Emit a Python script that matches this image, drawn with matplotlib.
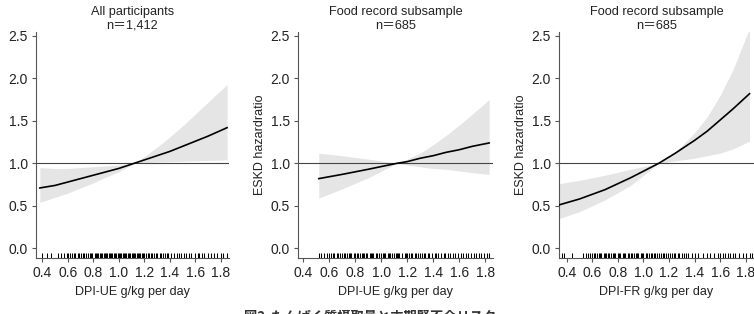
import matplotlib.pyplot as plt
import matplotlib.transforms as mtransforms

plt.rcParams['font.family'] = ['Liberation Sans', 'Noto Sans CJK JP', 'DejaVu Sans']

# hazard ratio curves (x in g/kg per day)
p1_x = [0.38, 0.5, 0.6, 0.7, 0.8, 0.9, 1.0, 1.12, 1.2, 1.3, 1.4, 1.5, 1.6, 1.7, 1.85]
p1_hr = [0.71, 0.74, 0.78, 0.82, 0.86, 0.90, 0.94, 1.0, 1.04, 1.09, 1.14, 1.20, 1.26, 1.32, 1.42]
p1_hi = [0.95, 0.94, 0.94, 0.95, 0.96, 0.97, 0.98, 1.0, 1.08, 1.19, 1.31, 1.44, 1.58, 1.72, 1.93]
p1_lo = [0.54, 0.60, 0.65, 0.71, 0.77, 0.84, 0.90, 1.0, 1.01, 1.015, 1.02, 1.025, 1.03, 1.035, 1.04]

p2_x = [0.52, 0.7, 0.9, 1.12, 1.2, 1.3, 1.4, 1.5, 1.6, 1.7, 1.83]
p2_hr = [0.82, 0.87, 0.93, 1.0, 1.02, 1.06, 1.09, 1.13, 1.16, 1.20, 1.24]
p2_hi = [1.12, 1.09, 1.05, 1.0, 1.05, 1.12, 1.22, 1.33, 1.45, 1.58, 1.75]
p2_lo = [0.59, 0.70, 0.83, 1.0, 0.98, 0.96, 0.94, 0.93, 0.91, 0.89, 0.87]

p3_x = [0.34, 0.5, 0.7, 0.9, 1.12, 1.25, 1.4, 1.5, 1.6, 1.7, 1.83]
p3_hr = [0.51, 0.58, 0.69, 0.83, 1.0, 1.12, 1.27, 1.38, 1.51, 1.64, 1.82]
p3_hi = [0.76, 0.80, 0.86, 0.93, 1.0, 1.13, 1.36, 1.55, 1.80, 2.10, 2.59]
p3_lo = [0.35, 0.43, 0.57, 0.74, 1.0, 1.03, 1.06, 1.09, 1.12, 1.17, 1.26]

# rug marks (individual intakes)
rug1 = [0.40, 0.44, 0.47, 0.52, 0.55, 0.57, 0.59, 0.60, 0.62, 0.63, 0.65, 0.66, 0.68, 0.69,
        0.70, 0.72, 0.73, 0.74, 0.76, 0.77, 0.78, 0.79, 0.81, 0.82, 0.83, 0.84, 0.85, 0.86,
        0.87, 0.88, 0.89, 0.90, 0.91, 0.92, 0.93, 0.94, 0.95, 0.96, 0.97, 0.98, 0.99, 1.00,
        1.01, 1.02, 1.03, 1.04, 1.05, 1.06, 1.07, 1.08, 1.09, 1.10, 1.11, 1.12, 1.13, 1.14,
        1.15, 1.16, 1.17, 1.18, 1.19, 1.20, 1.21, 1.23, 1.24, 1.25, 1.26, 1.28, 1.29, 1.30,
        1.32, 1.33, 1.35, 1.36, 1.38, 1.39, 1.41, 1.43, 1.46, 1.47, 1.49, 1.51, 1.53, 1.55,
        1.57, 1.60, 1.62, 1.63, 1.65, 1.67, 1.70, 1.72, 1.75, 1.77, 1.80, 1.82, 1.85]
rug2 = [0.52, 0.54, 0.56, 0.58, 0.60, 0.61, 0.63, 0.64, 0.66, 0.67, 0.68, 0.70, 0.71, 0.72,
        0.74, 0.75, 0.76, 0.77, 0.79, 0.80, 0.81, 0.82, 0.84, 0.85, 0.86, 0.87, 0.88, 0.89,
        0.91, 0.92, 0.93, 0.94, 0.96, 0.97, 0.98, 1.00, 1.01, 1.02, 1.03, 1.05, 1.06, 1.07,
        1.08, 1.10, 1.11, 1.12, 1.13, 1.14, 1.16, 1.18, 1.19, 1.20, 1.21, 1.23, 1.24, 1.26,
        1.27, 1.28, 1.30, 1.31, 1.33, 1.34, 1.36, 1.37, 1.39, 1.41, 1.42, 1.44, 1.46, 1.48,
        1.49, 1.51, 1.53, 1.55, 1.57, 1.59, 1.61, 1.63, 1.65, 1.67, 1.69, 1.71, 1.73, 1.75,
        1.77, 1.79, 1.81, 1.83]
rug3 = [0.36, 0.38, 0.44, 0.53, 0.55, 0.57, 0.58, 0.60, 0.61, 0.62, 0.64, 0.65, 0.66, 0.67,
        0.69, 0.70, 0.71, 0.72, 0.73, 0.75, 0.76, 0.77, 0.78, 0.80, 0.81, 0.82, 0.84, 0.85,
        0.86, 0.88, 0.89, 0.90, 0.91, 0.93, 0.94, 0.95, 0.96, 0.98, 0.99, 1.00, 1.02, 1.03,
        1.04, 1.06, 1.07, 1.08, 1.09, 1.11, 1.12, 1.14, 1.15, 1.16, 1.18, 1.19, 1.21, 1.22,
        1.24, 1.25, 1.27, 1.28, 1.30, 1.32, 1.33, 1.35, 1.38, 1.40, 1.43, 1.47, 1.50, 1.52,
        1.55, 1.58, 1.60, 1.62, 1.64, 1.66, 1.68, 1.70, 1.72, 1.75, 1.78, 1.80, 1.83, 1.85]

titles = ['All participants\nn＝1,412', 'Food record subsample\nn＝685', 'Food record subsample\nn＝685']
xlabels = ['DPI-UE g/kg per day', 'DPI-UE g/kg per day', 'DPI-FR g/kg per day']
xticks = [0.4, 0.6, 0.8, 1.0, 1.2, 1.4, 1.6, 1.8]
yticks = [0.0, 0.5, 1.0, 1.5, 2.0, 2.5]
caption = '図2  たんぱく質摂取量と末期腎不全リスク'

W, H = 754, 314
fig = plt.figure(figsize=(W / 100, H / 100), dpi=100)

panels = [
    (36, 193, (0.35, 1.865), p1_x, p1_hr, p1_hi, p1_lo, rug1),
    (298, 195, (0.36, 1.86), p2_x, p2_hr, p2_hi, p2_lo, rug2),
    (559, 195, (0.34, 1.865), p3_x, p3_hr, p3_hi, p3_lo, rug3),
]
top_px, bot_px = 32, 258
spine_col = '#555555'

for i, (left, width, xlim, x, hr, hi, lo, rug) in enumerate(panels):
    ax = fig.add_axes([left / W, (H - bot_px) / H, width / W, (bot_px - top_px) / H])
    ax.fill_between(x, lo, hi, color='#e5e5e5', lw=0, zorder=1)
    ax.axhline(1.0, color='#444444', lw=0.8, zorder=2)
    ax.plot(x, hr, color='black', lw=1.2, zorder=3)
    trans = mtransforms.blended_transform_factory(ax.transData, ax.transAxes)
    ax.vlines(rug, 0, 0.022, transform=trans, color='black', lw=0.75, zorder=3)
    ax.set_xlim(*xlim)
    ax.set_ylim(-0.115, 2.547)
    ax.set_xticks(xticks)
    ax.set_xticklabels([f'{v:.1f}' for v in xticks])
    ax.set_yticks(yticks)
    ax.set_yticklabels([f'{v:.1f}' for v in yticks])
    for s in ['top', 'right']:
        ax.spines[s].set_visible(False)
    for s in ['left', 'bottom']:
        ax.spines[s].set_color(spine_col)
        ax.spines[s].set_linewidth(0.8)
    ax.tick_params(colors=spine_col, labelcolor='#222222', labelsize=10,
                   length=3, width=0.8, pad=3)
    ax.set_title(titles[i], fontsize=9.2, color='#222222', pad=2, linespacing=1.25)
    ax.set_xlabel(xlabels[i], fontsize=9, color='#222222', labelpad=4)
    ax.set_ylabel('ESKD hazardratio', fontsize=9, color='#222222', labelpad=3)

fig.text(370 / W, (H - 309.5) / H, caption, ha='center', va='top', fontsize=9.5,
         fontweight='bold', color='#333333', family=['Noto Sans CJK JP', 'DejaVu Sans'])

plt.savefig('out.png', dpi=100)
